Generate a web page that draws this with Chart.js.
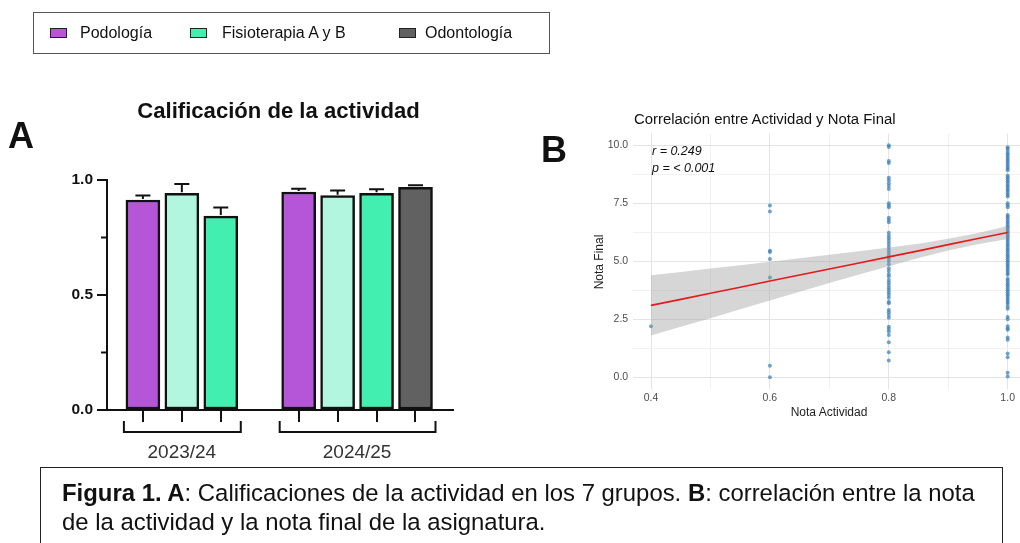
<!DOCTYPE html>
<html><head><meta charset="utf-8">
<script src="https://cdn.jsdelivr.net/npm/chart.js@4.4.1/dist/chart.umd.min.js"></script>
<style>
html,body{margin:0;padding:0;width:1020px;height:543px;overflow:hidden;background:#fff;font-family:"Liberation Sans",Arial,sans-serif;}
.t{position:absolute;white-space:nowrap;line-height:1;color:#111;}
.c{transform:translate(-50%,-50%);}
canvas{position:absolute;left:0;top:0;}
.sw{position:absolute;width:15px;height:8px;border:1.6px solid #222;}
</style></head><body>
<canvas id="cA" width="1020" height="543" style="width:1020px;height:543px"></canvas>
<canvas id="cB" width="1040" height="543" style="width:1040px;height:543px"></canvas>

<!-- legend -->
<div style="position:absolute;left:33px;top:12px;width:515px;height:40px;border:1px solid #555;"></div>
<div class="sw" style="left:50px;top:27.5px;background:#B556D8"></div>
<div class="t" style="left:80px;top:24.5px;font-size:16px">Podología</div>
<div class="sw" style="left:190px;top:27.5px;background:#42EFB1"></div>
<div class="t" style="left:222px;top:24.5px;font-size:16px">Fisioterapia A y B</div>
<div class="sw" style="left:399px;top:27.5px;background:#616161"></div>
<div class="t" style="left:425px;top:24.5px;font-size:16px">Odontología</div>

<!-- panel letters and titles -->
<div class="t" style="left:8px;top:118px;font-size:36px;font-weight:bold">A</div>
<div class="t" style="left:541px;top:132px;font-size:36px;font-weight:bold">B</div>
<div class="t c" style="left:278.5px;top:111px;font-size:22.1px;font-weight:bold">Calificación de la actividad</div>
<div class="t" style="left:634px;top:111.5px;font-size:14.9px">Correlación entre Actividad y Nota Final</div>
<div class="t c" style="left:829px;top:412px;font-size:12px;color:#222">Nota Actividad</div>
<div class="t" style="left:599px;top:262px;font-size:12px;color:#222;transform:translate(-50%,-50%) rotate(-90deg)">Nota Final</div>
<div class="t" style="left:652px;top:144.5px;font-size:12.5px;font-style:italic">r = 0.249</div>
<div class="t" style="left:652px;top:161.8px;font-size:12.5px;font-style:italic">p = &lt; 0.001</div>

<!-- caption -->
<div style="position:absolute;left:40px;top:467px;width:961px;height:100px;border:1.5px solid #222;"></div>
<div class="t" style="left:62px;top:481px;font-size:23.9px"><b>Figura 1. A</b>: Calificaciones de la actividad en los 7 grupos. <b>B</b>: correlación entre la nota</div>
<div class="t" style="left:62px;top:510px;font-size:23.9px">de la actividad y la nota final de la asignatura.</div>

<script>
// ---------- Panel A data ----------
const grupos  = ['Podología','Fisioterapia A','Fisioterapia B','Podología','Fisioterapia A','Fisioterapia B','Odontología'];
const cursos  = ['2023/24','2023/24','2023/24','2024/25','2024/25','2024/25','2024/25'];
const medias  = [0.913, 0.942, 0.843, 0.948, 0.932, 0.942, 0.968];
const errores = [0.020, 0.041, 0.037, 0.014, 0.022, 0.018, 0.009];
const yTicksA = [0, 0.5, 1.0];
const yMinorA = [0.25, 0.75];

// ---------- Panel B data ----------
const notaActividad = [0.4, 0.6, 0.8, 1.0];
const final04 = [2.2];
const final06 = [7.4, 7.15, 5.45, 5.4, 5.1, 4.3, 0.5, 0.0];
const final08 = [10.0, 9.93, 9.32, 9.24, 8.6, 8.49, 8.36, 8.25, 8.12, 7.5, 7.41, 7.33, 6.88, 6.78, 6.68,
  6.23, 6.1, 5.99, 5.88, 5.76, 5.63, 5.5, 5.38, 5.25, 5.13, 5.01, 4.87, 4.7, 4.58, 4.44, 4.34, 4.19,
  4.09, 3.98, 3.86, 3.76, 3.66, 3.55, 3.43, 3.26, 3.19, 2.9, 2.8, 2.69, 2.57, 2.18, 2.08, 1.97, 1.82,
  1.51, 1.08, 0.72];
const final10 = [9.92, 9.85, 9.75, 9.66, 9.58, 9.5, 9.41, 9.33, 9.25, 9.16, 9.08, 9.0, 8.92, 8.7, 8.62,
  8.54, 8.45, 8.37, 8.28, 8.2, 8.12, 8.04, 7.95, 7.87, 7.79, 7.5, 7.42, 7.33, 7.0, 6.92, 6.84, 6.75,
  6.67, 6.58, 6.5, 6.42, 6.33, 6.25, 6.17, 6.08, 6.0, 5.92, 5.83, 5.75, 5.67, 5.58, 5.5, 5.42, 5.33,
  5.25, 5.17, 5.08, 5.0, 4.92, 4.83, 4.75, 4.67, 4.58, 4.5, 4.42, 4.25, 4.17, 4.08, 4.0, 3.92, 3.83,
  3.75, 3.67, 3.58, 3.5, 3.42, 3.33, 3.25, 3.17, 3.05, 2.95, 2.6, 2.5, 2.2, 2.1, 2.05, 1.72, 1.62,
  1.03, 0.86, 0.2, 0.03];
const bandX     = [0.40, 0.45, 0.50, 0.55, 0.60, 0.65, 0.70, 0.75, 0.80, 0.85, 0.90, 0.95, 1.00];
const ajuste    = [3.10, 3.36, 3.62, 3.88, 4.15, 4.41, 4.67, 4.93, 5.19, 5.45, 5.72, 5.98, 6.24];
const bandUpper = [4.40, 4.54, 4.69, 4.83, 4.98, 5.13, 5.28, 5.43, 5.59, 5.76, 5.97, 6.22, 6.52];
const bandLower = [1.80, 2.18, 2.55, 2.93, 3.31, 3.69, 4.06, 4.43, 4.79, 5.14, 5.47, 5.74, 5.96];

const FONT = '"Liberation Sans", Arial, sans-serif';
const colores = {'Podología':'#B556D8','Fisioterapia A':'#B3F6DF','Fisioterapia B':'#42EFB1','Odontología':'#616161'};

// slot index of each bar: order in list plus one empty slot between courses
const cursoList = [...new Set(cursos)];
const pos = cursos.map((c, i) => i + cursoList.indexOf(c));

const panelAPlugin = {
  id: 'panelA',
  afterDatasetsDraw(chart) {
    const ctx = chart.ctx, xs = chart.scales.x, ys = chart.scales.y;
    ctx.save();
    ctx.strokeStyle = '#111'; ctx.lineWidth = 2; ctx.lineCap = 'butt';
    medias.forEach((m, i) => {
      const x = xs.getPixelForValue(pos[i]);
      const y0 = ys.getPixelForValue(m), y1 = ys.getPixelForValue(m + errores[i]);
      ctx.beginPath(); ctx.moveTo(x, y0 - 1); ctx.lineTo(x, y1);
      ctx.moveTo(x - 7.5, y1); ctx.lineTo(x + 7.5, y1); ctx.stroke();
    });
    const xl = chart.chartArea.left;
    yMinorA.forEach(v => {
      const y = ys.getPixelForValue(v);
      ctx.beginPath(); ctx.moveTo(xl - 6, y); ctx.lineTo(xl, y); ctx.stroke();
    });
    const yb = ys.getPixelForValue(0);
    cursoList.forEach(c => {
      const idx = cursos.map((k, i) => k === c ? i : -1).filter(i => i >= 0);
      const x0 = xs.getPixelForValue(pos[idx[0]]), x1 = xs.getPixelForValue(pos[idx[idx.length - 1]]);
      const l = x0 - 19, r = x1 + 20;
      ctx.beginPath();
      ctx.moveTo(l, yb + 11); ctx.lineTo(l, yb + 22); ctx.lineTo(r, yb + 22); ctx.lineTo(r, yb + 11);
      ctx.stroke();
      ctx.fillStyle = '#333'; ctx.font = '19px ' + FONT;
      ctx.textAlign = 'center'; ctx.textBaseline = 'middle';
      ctx.fillText(c, (x0 + x1) / 2, yb + 43);
    });
    ctx.restore();
  }
};

new Chart(document.getElementById('cA'), {
  type: 'bar',
  data: {
    datasets: [{
      data: medias.map((v, i) => ({x: pos[i], y: v})),
      backgroundColor: grupos.map(g => colores[g]),
      borderColor: '#111', borderWidth: 2.5, borderSkipped: false,
      barThickness: 34
    }]
  },
  options: {
    responsive: false, animation: false,
    layout: {padding: {left: 47, top: 180, right: 567, bottom: 121}},
    plugins: {legend: {display: false}, tooltip: {enabled: false}},
    scales: {
      x: {
        type: 'linear', min: -0.922, max: 7.963, offset: false,
        afterBuildTicks: s => { s.ticks = pos.map(v => ({value: v})); },
        afterFit: s => { s.height = 12; },
        ticks: {display: false},
        grid: {offset: false, drawOnChartArea: false, drawTicks: true, tickLength: 12, color: '#111', lineWidth: 2},
        border: {display: true, color: '#111', width: 2}
      },
      y: {
        min: 0, max: 1,
        afterBuildTicks: s => { s.ticks = yTicksA.map(v => ({value: v})); },
        afterFit: s => { s.width = 60; },
        ticks: {font: {family: FONT, size: 15.5, weight: 'bold'}, color: '#111', padding: 4,
                callback: v => Number(v).toFixed(1)},
        grid: {drawOnChartArea: false, drawTicks: true, tickLength: 10, color: '#111', lineWidth: 2},
        border: {display: true, color: '#111', width: 2}
      }
    }
  },
  plugins: [panelAPlugin]
});

// ---------- Panel B ----------
const columnas = [final04, final06, final08, final10];
const puntos = [];
columnas.forEach((col, k) => col.forEach(v => puntos.push({x: notaActividad[k], y: v})));

const isMajorX = v => Math.abs(v * 5 - Math.round(v * 5)) < 1e-6;
const isMajorY = v => Math.abs(v / 2.5 - Math.round(v / 2.5)) < 1e-6;

new Chart(document.getElementById('cB'), {
  type: 'scatter',
  data: {
    datasets: [
      {data: puntos, pointRadius: 2, pointBackgroundColor: 'rgba(55,126,184,0.7)',
       pointBorderWidth: 0, pointBorderColor: 'rgba(0,0,0,0)', order: 3},
      {data: bandX.map((x, i) => ({x, y: bandUpper[i]})), showLine: true, pointRadius: 0,
       borderWidth: 0, borderColor: 'rgba(0,0,0,0)', fill: '+1', backgroundColor: 'rgba(153,153,153,0.4)', order: 1},
      {data: bandX.map((x, i) => ({x, y: bandLower[i]})), showLine: true, pointRadius: 0,
       borderWidth: 0, borderColor: 'rgba(0,0,0,0)', fill: false, order: 1},
      {data: bandX.map((x, i) => ({x, y: ajuste[i]})), showLine: true, pointRadius: 0,
       borderColor: '#E41A1C', borderWidth: 1.6, fill: false, order: 0}
    ]
  },
  options: {
    responsive: false, animation: false,
    layout: {padding: {left: 593.2, top: 133.7, right: 14.5, bottom: 134.1}},
    plugins: {legend: {display: false}, tooltip: {enabled: false}},
    scales: {
      x: {
        type: 'linear', min: 0.37, max: 1.03,
        afterFit: s => { s.height = 20; },
        ticks: {stepSize: 0.1, includeBounds: false, autoSkip: false, maxRotation: 0, padding: 3,
                font: {family: FONT, size: 10.5}, color: '#4d4d4d',
                callback: v => isMajorX(v) ? Number(v).toFixed(1) : ''},
        grid: {drawTicks: false, lineWidth: 1, color: c => isMajorX(c.tick.value) ? '#e4e4e4' : '#f1f1f1'},
        border: {display: false}
      },
      y: {
        type: 'linear', min: -0.5, max: 10.5,
        afterFit: s => { s.width = 40; },
        ticks: {stepSize: 1.25, includeBounds: false, autoSkip: false, padding: 5,
                font: {family: FONT, size: 10.5}, color: '#4d4d4d',
                callback: v => isMajorY(v) ? Number(v).toFixed(1) : ''},
        grid: {drawTicks: false, lineWidth: 1, color: c => isMajorY(c.tick.value) ? '#e4e4e4' : '#f1f1f1'},
        border: {display: false}
      }
    }
  }
});
</script>
</body></html>
